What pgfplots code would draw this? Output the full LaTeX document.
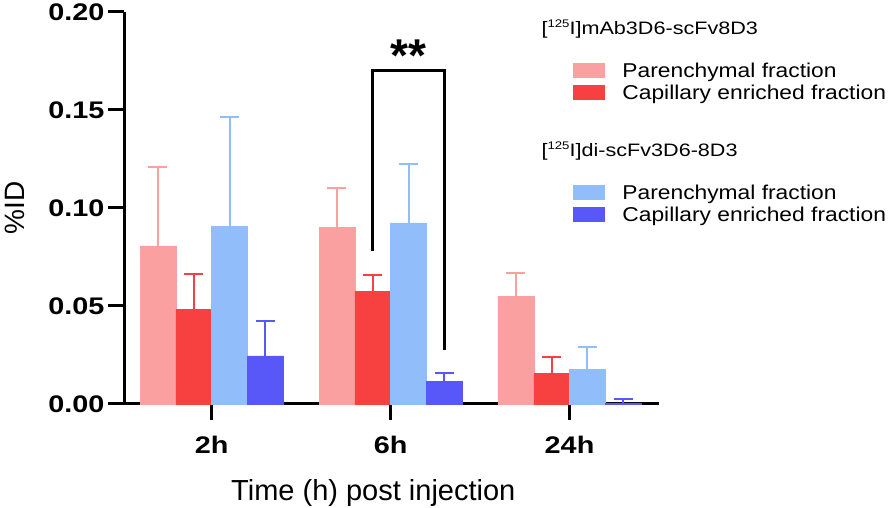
\documentclass[border=0pt]{standalone}
\usepackage{pgfplots}
\pgfplotsset{compat=1.18}
\usepackage{fontspec}
\setmainfont{Liberation Sans}
\newfontfamily\wide[FakeStretch=1.2]{Liberation Sans}
\newfontfamily\widel[FakeStretch=1.14]{Liberation Sans}
\definecolor{lred}{RGB}{251,160,160}
\definecolor{dred}{RGB}{247,64,64}
\definecolor{lblue}{RGB}{145,190,250}
\definecolor{dblue}{RGB}{88,88,248}
\newcommand{\fs}[1]{\fontsize{#1pt}{#1pt}\selectfont}
\begin{document}
\begin{tikzpicture}
\path[use as bounding box] (0,0) rectangle (896pt,508pt);
\begin{axis}[
  at={(124pt,104pt)}, anchor=south west,
  scale only axis, width=535pt, height=392pt,
  xmin=-0.49, xmax=2.5, ymin=0, ymax=0.2,
  clip=false,
  axis lines=left,
  axis line style={-, line width=3pt, black},
  every outer x axis line/.append style={-},
  every outer y axis line/.append style={-},
  xtick={0,1,2}, xticklabels={2h,6h,24h},
  ytick={0,0.05,0.1,0.15,0.2},
  tick align=outside, major tick length=16pt,
  tick style={line width=3pt, black},
  scaled y ticks=false,
  /pgf/number format/assume math mode=true,
  yticklabel style={font=\wide\bfseries\fs{24}, inner ysep=0pt,
    /pgf/number format/.cd, fixed, fixed zerofill, precision=2},
  xticklabel style={font=\wide\bfseries\fs{24}, yshift=-13pt},
  every axis x label/.style={at={(axis description cs:0.466,0)}, anchor=base, yshift=-96pt, font=\fs{29}},
  every axis y label/.style={at={(axis description cs:0,0.5)}, rotate=90, anchor=base, yshift=99pt, font=\fs{28}},
  xlabel={Time (h) post injection},
  ylabel={\%ID},
  ybar, bar width=0.2,
  legend cell align=left,
  legend style={at={(axis description cs:0.8393,0.8801)}, anchor=north west,
    draw=none, fill=none, inner sep=0pt, row sep=0pt, column sep=0pt,
    font=\widel\fs{20},
    nodes={inner sep=0pt, text height=18pt, text depth=4pt}},
]
\addplot[forget plot, bar shift=-0.3, fill=lred, draw=lred, line width=0.5pt,
  error bars/.cd, y dir=plus, y explicit, error mark=|,
  error bar style={line width=2pt, draw=lred},
  error mark options={line width=2pt, mark size=9.5pt, draw=lred}]
  coordinates {(0,0.0807) +- (0,0.0401) (1,0.0900) +- (0,0.0203) (2,0.0548) +- (0,0.0122)};
\addplot[forget plot, bar shift=-0.1, fill=dred, draw=dred, line width=0.5pt,
  error bars/.cd, y dir=plus, y explicit, error mark=|,
  error bar style={line width=2pt, draw=dred},
  error mark options={line width=2pt, mark size=9.5pt, draw=dred}]
  coordinates {(0,0.0482) +- (0,0.0182) (1,0.0575) +- (0,0.0085) (2,0.0157) +- (0,0.0082)};
\addplot[forget plot, bar shift=0.1, fill=lblue, draw=lblue, line width=0.5pt,
  error bars/.cd, y dir=plus, y explicit, error mark=|,
  error bar style={line width=2pt, draw=lblue},
  error mark options={line width=2pt, mark size=9.5pt, draw=lblue}]
  coordinates {(0,0.0907) +- (0,0.0555) (1,0.0924) +- (0,0.0299) (2,0.0178) +- (0,0.0112)};
\addplot[forget plot, bar shift=0.3, fill=dblue, draw=dblue, line width=0.5pt,
  error bars/.cd, y dir=plus, y explicit, error mark=|,
  error bar style={line width=2pt, draw=dblue},
  error mark options={line width=2pt, mark size=9.5pt, draw=dblue}]
  coordinates {(0,0.0245) +- (0,0.0178) (1,0.0117) +- (0,0.0040) (2,0.0006) +- (0,0.0019)};
\addlegendimage{legend image code/.code={\fill[lred] (0pt,-7pt) rectangle (31pt,7pt); \path[draw=none,fill=none] (0pt,-7pt) rectangle (49pt,7pt);}}
\addlegendentry{Parenchymal fraction}
\addlegendimage{legend image code/.code={\fill[dred] (0pt,-7pt) rectangle (31pt,7pt); \path[draw=none,fill=none] (0pt,-7pt) rectangle (49pt,7pt);}}
\addlegendentry{Capillary enriched fraction}
\addlegendimage{empty legend}
\addlegendentry[text height=78pt, text depth=0pt]{}
\addlegendimage{legend image code/.code={\fill[lblue] (0pt,-7pt) rectangle (31pt,7pt); \path[draw=none,fill=none] (0pt,-7pt) rectangle (49pt,7pt);}}
\addlegendentry{Parenchymal fraction}
\addlegendimage{legend image code/.code={\fill[dblue] (0pt,-7pt) rectangle (31pt,7pt); \path[draw=none,fill=none] (0pt,-7pt) rectangle (49pt,7pt);}}
\addlegendentry{Capillary enriched fraction}
\draw[line width=3pt, line join=miter] (axis cs:0.9,0.0783) -- (axis cs:0.9,0.1704) -- (axis cs:1.3,0.1704) -- (axis cs:1.3,0.0275);
\node[font=\bfseries\fs{46}] at (axis cs:1.1,0.1775) {**};
\end{axis}
\node[anchor=base west, font=\wide\fs{18}] at (538pt,473pt) {[\raisebox{0.4em}{\fs{11}125}I]mAb3D6-scFv8D3};
\node[anchor=base west, font=\wide\fs{18}] at (538pt,351pt) {[\raisebox{0.4em}{\fs{11}125}I]di-scFv3D6-8D3};
\end{tikzpicture}
\end{document}
